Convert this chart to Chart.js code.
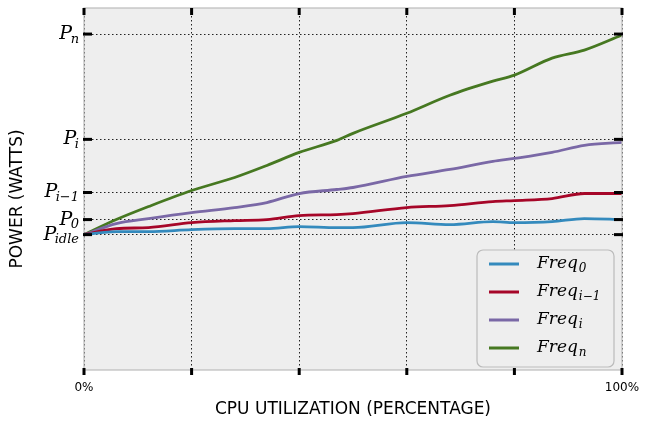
<!DOCTYPE html>
<html>
<head>
<meta charset="utf-8">
<script src="https://cdn.jsdelivr.net/npm/chart.js@4/dist/chart.umd.min.js"></script>
<style>
  html, body { margin: 0; padding: 0; background: #fff; }
  #wrap { width: 660px; height: 423px; }
</style>
</head>
<body>
<div id="wrap"><canvas id="powerChart" width="660" height="423"></canvas></div>
<script>
// CPU utilisation (%) sampled along the x axis
const utilization = [0, 6, 12, 20, 28, 34, 40, 47, 50, 60, 68, 76, 80, 87, 93, 100];

// power (arbitrary units, axis 0..361)
const powerFreq0  = [135, 138, 138, 140, 141, 141, 143, 142, 142, 147, 145, 148, 147, 148, 151, 150];
const powerFreqI1 = [135, 141, 142, 147, 149, 150, 154, 155, 156, 162, 164, 168, 169, 171, 176, 176];
const powerFreqI  = [135, 146, 151, 157, 162, 167, 176, 180, 182, 193, 200, 208, 211, 217, 224, 227];
const powerFreqN  = [135, 150, 163, 179, 192, 204, 217, 229, 236, 256, 274, 288, 294, 311, 319, 334];

// y tick positions and their symbolic labels
const yTickValues = [135, 150, 177, 230, 335];
const yTickSubs   = ['idle', '0', 'i\u22121', 'i', 'n'];
const xTickValues = [0, 20, 40, 60, 80, 100];

const seriesNames  = ['0', 'i\u22121', 'i', 'n'];
const seriesColors = ['#348ABD', '#A60628', '#7A68A6', '#467821'];
const seriesData   = [powerFreq0, powerFreqI1, powerFreqI, powerFreqN];

const serif = '"DejaVu Serif", "Liberation Serif", serif';
const hand = '"DejaVu Sans", sans-serif';

function drawSubLabel(ctx, x, y, main, sub, size, align, kern) {
    const subSize = Math.round(size * 0.7);
    ctx.font = 'italic ' + size + 'px ' + serif;
    const w1 = ctx.measureText(main).width + kern;
    ctx.font = 'italic ' + subSize + 'px ' + serif;
    const w2 = ctx.measureText(sub).width;
    const x0 = align === 'right' ? x - w1 - w2 : x;
    ctx.textBaseline = 'middle';
    ctx.textAlign = 'left';
    ctx.font = 'italic ' + size + 'px ' + serif;
    ctx.fillText(main, x0, y);
    ctx.font = 'italic ' + subSize + 'px ' + serif;
    ctx.fillText(sub, x0 + w1, y + size * 0.27);
}

const decor = {
    id: 'decor',
    beforeDraw(chart) {
        const { ctx, chartArea: a } = chart;
        ctx.save();
        ctx.fillStyle = '#EEEEEE';
        ctx.fillRect(a.left, a.top, a.right - a.left, a.bottom - a.top);
        ctx.restore();
    },
    afterDraw(chart) {
        const { ctx, chartArea: a, scales } = chart;
        ctx.save();
        // frame
        ctx.strokeStyle = '#BBBBBB';
        ctx.lineWidth = 1.2;
        ctx.strokeRect(a.left, a.top, a.right - a.left, a.bottom - a.top);

        // tick marks
        ctx.fillStyle = '#000';
        xTickValues.forEach(v => {
            const px = scales.x.getPixelForValue(v);
            ctx.fillRect(px - 1.5, a.top, 3, 7);
            ctx.fillRect(px - 1.5, a.bottom - 2, 3, 7);
        });
        yTickValues.forEach((v, i) => {
            const py = scales.y.getPixelForValue(v);
            ctx.fillRect(a.left - 1, py - 1.5, 9, 3);
            ctx.fillRect(a.right - 8, py - 1.5, 9, 3);
            drawSubLabel(ctx, a.left - 5, py, 'P', yTickSubs[i], 19, 'right', -1.5);
        });

        // x tick labels
        ctx.fillStyle = '#000';
        ctx.font = '12px ' + hand;
        ctx.textAlign = 'center';
        ctx.textBaseline = 'middle';
        ctx.fillText('0%', scales.x.getPixelForValue(0), 388);
        ctx.fillText('100%', scales.x.getPixelForValue(100), 388);

        // axis titles
        ctx.font = '17px ' + hand;
        ctx.fillText('CPU UTILIZATION (PERCENTAGE)', (a.left + a.right) / 2, 410);
        ctx.save();
        ctx.translate(18, (a.top + a.bottom) / 2 + 10);
        ctx.rotate(-Math.PI / 2);
        ctx.fillText('POWER (WATTS)', 0, 0);
        ctx.restore();

        // legend box
        const lx = 477, ly = 250, lw = 137, lh = 117, r = 6;
        ctx.beginPath();
        ctx.moveTo(lx + r, ly);
        ctx.arcTo(lx + lw, ly, lx + lw, ly + lh, r);
        ctx.arcTo(lx + lw, ly + lh, lx, ly + lh, r);
        ctx.arcTo(lx, ly + lh, lx, ly, r);
        ctx.arcTo(lx, ly, lx + lw, ly, r);
        ctx.closePath();
        ctx.fillStyle = '#EEEEEE';
        ctx.fill();
        ctx.strokeStyle = '#BBBBBB';
        ctx.lineWidth = 1.2;
        ctx.stroke();
        const rowsY = [264, 292, 320, 348];
        seriesNames.forEach((name, i) => {
            ctx.strokeStyle = seriesColors[i];
            ctx.lineWidth = 3;
            ctx.beginPath();
            ctx.moveTo(489, rowsY[i]);
            ctx.lineTo(519, rowsY[i]);
            ctx.stroke();
            ctx.fillStyle = '#000';
            drawSubLabel(ctx, 537, rowsY[i], 'Freq', name, 17, 'left', 1);
        });
        ctx.restore();
    }
};

const ctx = document.getElementById('powerChart').getContext('2d');
const powerChart = new Chart(ctx, {
    type: 'line',
    data: {
        datasets: seriesData.map((vals, i) => ({
            label: 'Freq_' + seriesNames[i],
            data: utilization.map((u, j) => ({ x: u, y: vals[j] })),
            borderColor: seriesColors[i],
            borderWidth: 2.8,
            pointRadius: 0,
            cubicInterpolationMode: 'monotone',
            fill: false
        }))
    },
    options: {
        responsive: false,
        animation: false,
        layout: { padding: { left: 84, right: 38, top: 8, bottom: 53 } },
        plugins: {
            legend: { display: false },
            tooltip: { enabled: false }
        },
        scales: {
            x: {
                type: 'linear',
                min: 0,
                max: 100,
                afterBuildTicks: s => { s.ticks = xTickValues.map(v => ({ value: v })); },
                ticks: { display: false },
                border: { display: false, dash: [1.5, 2.5] },
                grid: { color: '#222', lineWidth: 1, drawTicks: false }
            },
            y: {
                min: 0,
                max: 361,
                afterBuildTicks: s => { s.ticks = yTickValues.map(v => ({ value: v })); },
                ticks: { display: false },
                border: { display: false, dash: [1.5, 2.5] },
                grid: { color: '#222', lineWidth: 1, drawTicks: false }
            }
        }
    },
    plugins: [decor]
});
</script>
</body>
</html>
